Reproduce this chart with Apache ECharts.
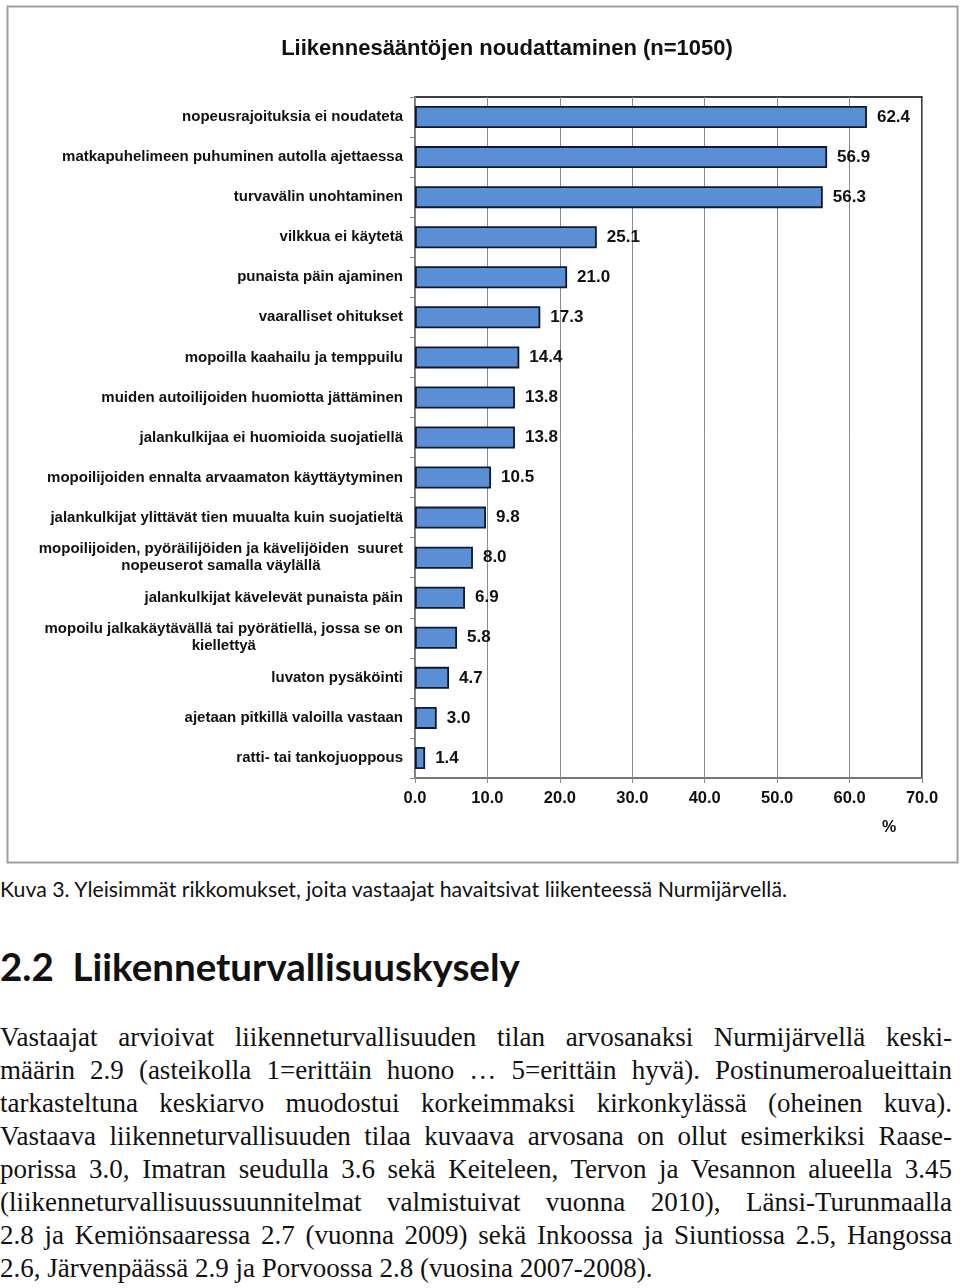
<!DOCTYPE html>
<html>
<head>
<meta charset="utf-8">
<script src="https://cdn.jsdelivr.net/npm/echarts@6/dist/echarts.min.js"></script>
<style>
  html, body { margin: 0; padding: 0; background: #fff; }
  body { width: 960px; height: 1288px; position: relative; overflow: hidden; }
  #chart { position: absolute; left: 0; top: 0; width: 960px; height: 866px; }
  #caption { position: absolute; left: 0; top: 876px; font-family: Lato, "Open Sans", sans-serif; font-size: 21.3px; color: #111; white-space: nowrap; }
  #heading { position: absolute; left: 0; top: 943px; font-family: Lato, "Open Sans", sans-serif; font-weight: 700; font-size: 38.5px; color: #111; white-space: nowrap; }
  #para { position: absolute; left: 0; top: 1021px; width: 952px; font-family: "Liberation Serif", "DejaVu Serif", serif; font-size: 27px; line-height: 33px; color: #111; }
  #para div { text-align: justify; text-align-last: justify; white-space: nowrap; }
  #para div.last { text-align-last: left; }
</style>
</head>
<body>
<div id="chart"></div>
<div id="caption">Kuva 3. Yleisimmät rikkomukset, joita vastaajat havaitsivat liikenteessä Nurmijärvellä.</div>
<div id="heading">2.2&nbsp;&nbsp;Liikenneturvallisuuskysely</div>
<div id="para">
  <div>Vastaajat arvioivat liikenneturvallisuuden tilan arvosanaksi Nurmijärvellä keski-</div>
  <div>määrin 2.9 (asteikolla 1=erittäin huono … 5=erittäin hyvä). Postinumeroalueittain</div>
  <div>tarkasteltuna keskiarvo muodostui korkeimmaksi kirkonkylässä (oheinen kuva).</div>
  <div>Vastaava liikenneturvallisuuden tilaa kuvaava arvosana on ollut esimerkiksi Raase-</div>
  <div>porissa 3.0, Imatran seudulla 3.6 sekä Keiteleen, Tervon ja Vesannon alueella 3.45</div>
  <div>(liikenneturvallisuussuunnitelmat valmistuivat vuonna 2010), Länsi-Turunmaalla</div>
  <div>2.8 ja Kemiönsaaressa 2.7 (vuonna 2009) sekä Inkoossa ja Siuntiossa 2.5, Hangossa</div>
  <div class="last">2.6, Järvenpäässä 2.9 ja Porvoossa 2.8 (vuosina 2007-2008).</div>
</div>
<script>
const title = 'Liikennesääntöjen noudattaminen (n=1050)';
const categories = [
  'nopeusrajoituksia ei noudateta',
  'matkapuhelimeen puhuminen autolla ajettaessa',
  'turvavälin unohtaminen',
  'vilkkua ei käytetä',
  'punaista päin ajaminen',
  'vaaralliset ohitukset',
  'mopoilla kaahailu ja temppuilu',
  'muiden autoilijoiden huomiotta jättäminen',
  'jalankulkijaa ei huomioida suojatiellä',
  'mopoilijoiden ennalta arvaamaton käyttäytyminen',
  'jalankulkijat ylittävät tien muualta kuin suojatieltä',
  'mopoilijoiden, pyöräilijöiden ja kävelijöiden  suuret\nnopeuserot samalla väylällä',
  'jalankulkijat kävelevät punaista päin',
  'mopoilu jalkakäytävällä tai pyörätiellä, jossa se on\nkiellettyä',
  'luvaton pysäköinti',
  'ajetaan pitkillä valoilla vastaan',
  'ratti- tai tankojuoppous'
];
const values = [62.4, 56.9, 56.3, 25.1, 21.0, 17.3, 14.4, 13.8, 13.8, 10.5, 9.8, 8.0, 6.9, 5.8, 4.7, 3.0, 1.4];
const axisMin = 0, axisMax = 70, axisStep = 10;
const unitLabel = '%';

const chart = echarts.init(document.getElementById('chart'), null, { renderer: 'canvas' });
const font = '"Liberation Sans", Arial, sans-serif';
chart.setOption({
  animation: false,
  backgroundColor: '#fff',
  title: {
    text: title, left: 502, top: 33, textAlign: 'center',
    textStyle: { fontFamily: font, fontSize: 22, fontWeight: 'bold', color: '#111' }
  },
  graphic: [
    { type: 'rect', left: 5, top: 4, shape: { width: 950, height: 856 }, style: { fill: 'none', stroke: '#a0a0a0', lineWidth: 2 }, z: -1 },
    { type: 'text', left: 882, top: 820, style: { text: unitLabel, font: 'bold 16px ' + font, fill: '#111' } }
  ],
  grid: { left: 415, right: 38, top: 97, bottom: 88, show: true, borderColor: '#000', borderWidth: 1.5, backgroundColor: 'transparent' },
  xAxis: {
    type: 'value', min: axisMin, max: axisMax, interval: axisStep,
    axisLine: { show: true, lineStyle: { color: '#888', width: 1.5 } },
    axisTick: { show: true, length: 5, lineStyle: { color: '#888' } },
    splitLine: { show: true, lineStyle: { color: '#8a8a8a', width: 1 } },
    axisLabel: { margin: 12, fontFamily: font, fontSize: 16.5, fontWeight: 'bold', color: '#111', formatter: v => v.toFixed(1) }
  },
  yAxis: {
    type: 'category', data: categories, inverse: true,
    axisLine: { show: true, lineStyle: { color: '#888', width: 1.5 } },
    axisTick: { show: true, length: 5, lineStyle: { color: '#888' } },
    axisLabel: {
      margin: 12, fontFamily: font, fontSize: 15, fontWeight: 'bold', color: '#111', lineHeight: 17,
      formatter: v => v.split('\n').map(s => '{c|' + s + '}').join('\n'),
      rich: { c: { align: 'center', fontFamily: font, fontSize: 15, fontWeight: 'bold', color: '#111', lineHeight: 17 } }
    }
  },
  series: [{
    type: 'bar', data: values, barWidth: 22,
    itemStyle: { color: '#5a8fd6', borderColor: '#0e1830', borderWidth: 1.8 },
    label: { show: true, position: 'right', distance: 10, fontFamily: font, fontSize: 17, fontWeight: 'bold', color: '#111', formatter: p => p.value.toFixed(1) }
  }]
});
</script>
</body>
</html>
